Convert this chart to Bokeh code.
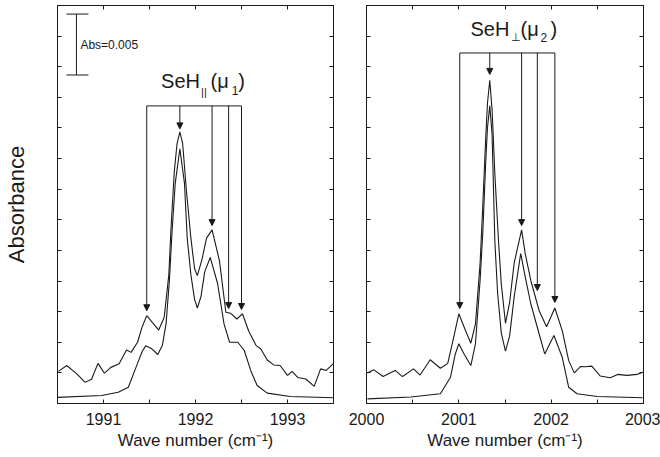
from bokeh.plotting import figure
from bokeh.models import Range1d, LinearAxis, FixedTicker, Arrow, NormalHead, Label
from bokeh.layouts import row
from bokeh.embed import file_html
from bokeh.resources import INLINE

# ---------------- data (wave number in cm^-1, absorbance in tick units) ----------------
left_exp_x = [1990.51, 1990.60, 1990.71, 1990.80, 1990.87, 1990.94, 1991.01, 1991.08, 1991.17,
              1991.25, 1991.30, 1991.37, 1991.42, 1991.47, 1991.53, 1991.60, 1991.66, 1991.71,
              1991.735, 1991.77, 1991.80, 1991.83, 1991.86, 1991.90, 1991.95, 1991.99, 1992.02,
              1992.07, 1992.12, 1992.18, 1992.26, 1992.33, 1992.38, 1992.45, 1992.51, 1992.58,
              1992.66, 1992.71, 1992.78, 1992.85, 1992.92, 1993.00, 1993.05, 1993.11, 1993.20,
              1993.29, 1993.36, 1993.42, 1993.50]
left_exp_y = [1.05, 1.24, 0.97, 0.69, 0.79, 1.31, 0.99, 1.18, 1.30,
              1.75, 1.67, 2.00, 2.50, 2.87, 2.65, 2.40, 2.82, 4.20,
              5.80, 7.60, 8.50, 8.87, 8.50, 7.00, 5.40, 4.40, 4.18,
              4.70, 5.40, 5.67, 4.67, 2.98, 2.95, 2.76, 2.93, 2.35,
              1.89, 1.78, 1.42, 1.26, 1.24, 0.92, 1.05, 0.85, 0.80,
              0.56, 1.13, 1.08, 1.30]

left_sim_x = [1990.50, 1990.98, 1991.16, 1991.27, 1991.37, 1991.42, 1991.46, 1991.52, 1991.59,
              1991.64, 1991.68, 1991.716, 1991.745, 1991.78, 1991.83, 1991.88, 1991.91, 1991.95,
              1991.99, 1992.02, 1992.06, 1992.10, 1992.16, 1992.24, 1992.31, 1992.37, 1992.46,
              1992.53, 1992.60, 1992.67, 1992.78, 1993.03, 1993.50]
left_sim_y = [0.20, 0.26, 0.37, 0.53, 1.31, 1.70, 1.89, 1.80, 1.60,
              1.90, 2.61, 4.00, 5.60, 7.20, 8.32, 7.20, 5.40, 4.20,
              3.40, 3.12, 3.50, 4.30, 4.77, 3.92, 2.60, 2.00, 2.00,
              1.73, 1.08, 0.59, 0.34, 0.23, 0.19]

right_exp_x = [2000.01, 2000.08, 2000.18, 2000.31, 2000.39, 2000.51, 2000.58, 2000.69, 2000.80,
               2000.88, 2000.94, 2001.00, 2001.07, 2001.13, 2001.18, 2001.23, 2001.26, 2001.29,
               2001.31, 2001.335, 2001.36, 2001.39, 2001.43, 2001.46, 2001.505, 2001.55, 2001.60,
               2001.68, 2001.72, 2001.78, 2001.87, 2001.95, 2002.04, 2002.12, 2002.19, 2002.25,
               2002.32, 2002.37, 2002.44, 2002.53, 2002.64, 2002.72, 2002.82, 2002.93, 2002.99]
right_exp_y = [1.00, 1.10, 0.88, 1.08, 0.88, 1.13, 0.93, 1.43, 1.15,
               1.31, 2.10, 2.93, 2.40, 1.97, 2.60, 4.56, 6.50, 8.60,
               9.80, 10.56, 9.60, 7.50, 5.30, 3.90, 2.62, 3.30, 4.60,
               5.67, 4.88, 4.01, 3.03, 2.51, 3.12, 2.38, 1.40, 1.00,
               1.21, 1.20, 1.22, 0.90, 0.84, 0.95, 0.92, 0.95, 1.02]

right_sim_x = [2000.01, 2000.48, 2000.80, 2000.91, 2000.96, 2001.00, 2001.06, 2001.13, 2001.18,
               2001.23, 2001.26, 2001.29, 2001.31, 2001.335, 2001.36, 2001.39, 2001.42, 2001.46,
               2001.505, 2001.55, 2001.60, 2001.67, 2001.72, 2001.78, 2001.87, 2001.93, 2002.03,
               2002.12, 2002.19, 2002.28, 2002.50, 2002.99]
right_sim_y = [0.15, 0.21, 0.32, 0.86, 1.60, 1.95, 1.60, 1.24, 1.95,
               4.01, 5.60, 7.80, 9.00, 9.72, 8.80, 5.30, 3.60, 2.30,
               1.71, 2.20, 3.50, 4.90, 4.12, 3.25, 2.27, 1.62, 2.22,
               1.51, 0.53, 0.32, 0.23, 0.19]

# assigned lines (arrow positions), arrow tips and bar heights
left_peaks = [1991.47, 1991.83, 1992.18, 1992.36, 1992.50]
left_tips = [3.03, 8.97, 5.81, 3.10, 3.07]
left_bar = 9.72
right_peaks = [2001.01, 2001.335, 2001.68, 2001.85, 2002.04]
right_tips = [3.10, 10.75, 5.81, 3.69, 3.30]
right_bar = 11.45

left_xticks = [1991, 1992, 1993]
left_xminor = [1990.5, 1991.5, 1992.5, 1993.5]
right_xticks = [2000, 2001, 2002, 2003]
right_xminor = [2000.5, 2001.5, 2002.5]
y_ticks = [1, 2, 3, 4, 5, 6, 7, 8, 9, 10, 11, 12]

# scale bar (Abs = 0.005 spans two tick units)
scale_x = 1990.706
scale_cap = (1990.597, 1990.836)
scale_y = (10.73, 12.72)

FONT = "Liberation Sans"
INK = "#1a1a1a"
HEIGHT = 455


def tick_style(ax):
    ax.axis_line_color = INK
    ax.major_tick_line_color = INK
    ax.minor_tick_line_color = INK
    ax.major_tick_in = 4
    ax.major_tick_out = 0
    ax.minor_tick_in = 4
    ax.minor_tick_out = 0


def make_fig(width, bl, br, xr, xticks, xminor, ylabel):
    p = figure(width=width, height=HEIGHT, output_backend="svg", toolbar_location=None,
               x_range=Range1d(*xr), y_range=Range1d(0, 13),
               x_axis_type=None, y_axis_type=None,
               min_border_left=bl, min_border_right=br, min_border_top=5, min_border_bottom=52)
    p.outline_line_color = INK
    p.outline_line_width = 1
    p.background_fill_color = "white"
    p.border_fill_color = "white"

    xb = LinearAxis(ticker=FixedTicker(ticks=xticks, minor_ticks=xminor),
                    axis_label="Wave number (cm⁻¹)")
    tick_style(xb)
    xb.major_label_text_font = FONT
    xb.major_label_text_font_size = "16px"
    xb.major_label_text_color = INK
    xb.major_label_standoff = 9
    xb.axis_label_text_font = FONT
    xb.axis_label_text_font_size = "17px"
    xb.axis_label_text_font_style = "normal"
    xb.axis_label_text_color = INK
    xb.axis_label_standoff = 3
    p.add_layout(xb, "below")

    # unlabeled frame axes: all ticks as minor ticks (minor ticks carry no labels)
    xt = LinearAxis(ticker=FixedTicker(ticks=[], minor_ticks=sorted(xticks + xminor)))
    tick_style(xt)
    p.add_layout(xt, "above")

    yl = LinearAxis(ticker=FixedTicker(ticks=[], minor_ticks=y_ticks))
    tick_style(yl)
    if ylabel:
        yl.axis_label = ylabel
        yl.axis_label_text_font = FONT
        yl.axis_label_text_font_size = "22px"
        yl.axis_label_text_font_style = "normal"
        yl.axis_label_text_color = INK
        yl.axis_label_standoff = 29
    p.add_layout(yl, "left")

    yr = LinearAxis(ticker=FixedTicker(ticks=[], minor_ticks=y_ticks))
    tick_style(yr)
    p.add_layout(yr, "right")
    return p


def add_arrows(p, peaks, tips, bar):
    p.line([peaks[0], peaks[-1]], [bar, bar], line_color=INK, line_width=1)
    for pk, tp in zip(peaks, tips):
        p.add_layout(Arrow(end=NormalHead(size=6, fill_color=INK, line_color=INK, line_width=1),
                           x_start=pk, y_start=bar, x_end=pk, y_end=tp,
                           line_color=INK, line_width=1))


def lab(p, x, y, text, size):
    p.add_layout(Label(x=x, y=y, text=text, text_font=FONT, text_font_size=size,
                       text_color=INK, text_baseline="alphabetic", text_align="left"))


p1 = make_fig(340, 56, 7, (1990.5, 1993.5), left_xticks, left_xminor, "Absorbance")
p1.line(left_exp_x, left_exp_y, line_color=INK, line_width=1.1)
p1.line(left_sim_x, left_sim_y, line_color=INK, line_width=1.1)
add_arrows(p1, left_peaks, left_tips, left_bar)
lab(p1, 1991.626, 10.54, "SeH", "20px")
lab(p1, 1992.06, 10.18, "||", "11px")
lab(p1, 1992.163, 10.54, "(μ", "20px")
lab(p1, 1992.395, 10.21, "1", "12px")
lab(p1, 1992.466, 10.54, ")", "20px")
# scale bar
p1.segment(x0=[scale_x, scale_cap[0], scale_cap[0]], y0=[scale_y[0], scale_y[0], scale_y[1]],
           x1=[scale_x, scale_cap[1], scale_cap[1]], y1=[scale_y[1], scale_y[0], scale_y[1]],
           line_color=INK, line_width=1)
p1.add_layout(Label(x=1990.749, y=11.71, text="Abs=0.005", text_font=FONT, text_font_size="12px",
                    text_color=INK, text_baseline="middle", text_align="left"))

p2 = make_fig(320, 26, 17, (2000, 2003), right_xticks, right_xminor, None)
p2.line(right_exp_x, right_exp_y, line_color=INK, line_width=1.1)
p2.line(right_sim_x, right_sim_y, line_color=INK, line_width=1.1)
add_arrows(p2, right_peaks, right_tips, right_bar)
lab(p2, 2001.126, 12.23, "SeH", "20px")
lab(p2, 2001.570, 11.97, "⊥", "11px")
lab(p2, 2001.668, 12.23, "(μ", "20px")
lab(p2, 2001.885, 11.97, "2", "12px")
lab(p2, 2001.993, 12.23, ")", "20px")

layout = row(p1, p2)
open("out.html", "w").write(file_html(layout, INLINE))
